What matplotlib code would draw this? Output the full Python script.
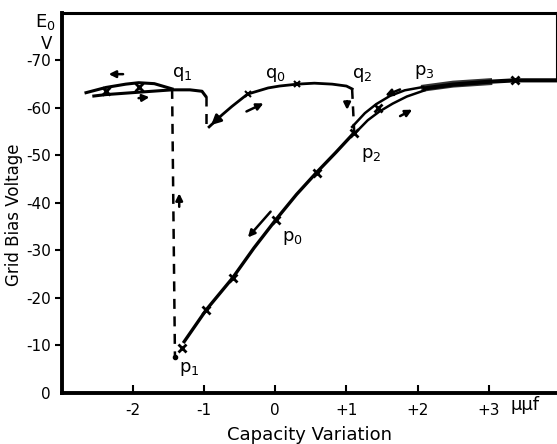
import matplotlib.pyplot as plt

# capacity variation (uuf) vs grid bias voltage (shown as magnitude, labelled negative)
left_up_x = [-2.66, -2.38, -2.1, -1.92, -1.7, -1.45]
left_up_y = [63.2, 64.3, 65.0, 65.3, 65.1, 64.0]
left_lo_x = [-2.55, -2.38, -1.92, -1.45, -1.2, -1.03, -0.98]
left_lo_y = [62.5, 62.8, 63.3, 63.8, 63.8, 63.5, 62.5]

q0_x = [-0.93, -0.75, -0.61, -0.39, -0.1, 0.06, 0.31, 0.55, 0.8, 1.0, 1.08]
q0_y = [56.0, 58.5, 60.3, 62.9, 64.2, 64.6, 65.0, 65.2, 65.0, 64.6, 64.0]

main_x = [-1.28, -0.97, -0.6, -0.3, 0.01, 0.3, 0.58, 0.85, 1.11]
main_y = [10.8, 17.5, 24.2, 30.5, 36.5, 41.8, 46.4, 50.6, 54.8]

dbl_lo_x = [1.13, 1.3, 1.46, 1.65, 1.85, 2.1]
dbl_lo_y = [54.8, 57.4, 59.2, 60.9, 62.4, 63.7]
dbl_up_x = [1.08, 1.26, 1.42, 1.61, 1.82, 2.08]
dbl_up_y = [56.0, 58.9, 60.8, 62.5, 63.7, 64.4]

top_x = [2.1, 2.5, 3.0, 3.37, 3.96]
top_y = [64.1, 64.9, 65.5, 65.8, 65.8]

q1 = (-1.45, 64.0)
p1 = (-1.41, 7.6)
q2 = (1.08, 64.0)
p2 = (1.11, 54.8)

xticks = [-2, -1, 0, 1, 2, 3]
xlabels = ['-2', '-1', '0', '+1', '+2', '+3']
yticks = [0, 10, 20, 30, 40, 50, 60, 70]
ylabels = ['0', '-10', '-20', '-30', '-40', '-50', '-60', '-70']

fig = plt.figure(figsize=(5.57, 4.44), dpi=100)
ax = fig.add_axes([0.111, 0.115, 0.889, 0.856])
ax.set_xlim(-3, 3.96)
ax.set_ylim(0, 80)

k = 'black'
ax.plot(left_up_x, left_up_y, color=k, lw=2.2)
ax.plot(left_lo_x, left_lo_y, color=k, lw=2.2)
ax.plot([-2.38, -1.92], [63.6, 64.3], 'x', color=k, ms=6, mew=2)
ax.plot([q1[0], p1[0]], [q1[1], p1[1]], color=k, lw=1.8, ls=(0, (4, 3)))
ax.plot([-0.98, -0.98], [62.5, 55.5], color=k, lw=1.8, ls=(0, (4, 3)))
ax.plot(*p1, 'o', color=k, ms=3)

ax.plot(q0_x, q0_y, color=k, lw=2)
ax.plot([-0.39, 0.31], [62.9, 65.0], 'x', color=k, ms=5, mew=1.5)
ax.annotate('', xy=(q0_x[0], q0_y[0]), xytext=(q0_x[1], q0_y[1]),
            arrowprops=dict(arrowstyle='-|>', color=k, lw=2, mutation_scale=14))
ax.plot([q2[0], p2[0]], [q2[1], p2[1]], color=k, lw=1.8, ls=(0, (4, 3)))

ax.plot(main_x, main_y, color=k, lw=2.4)
ax.plot([-1.31, -0.97, -0.6, 0.01, 0.58, 1.11], [9.5, 17.5, 24.2, 36.5, 46.4, 54.8],
        'x', color=k, ms=6, mew=2)

ax.plot(dbl_lo_x, dbl_lo_y, color=k, lw=1.8)
ax.plot(dbl_up_x, dbl_up_y, color=k, lw=1.8)
ax.plot([1.44], [59.9], 'x', color=k, ms=6, mew=2)
ax.plot(top_x, top_y, color=k, lw=3)
ax.plot(top_x[:3], [64.2, 65.0, 65.5], color=k, lw=5, alpha=0.8)
ax.plot([3.37], [65.8], 'x', color=k, ms=6, mew=2)

# direction arrows
arrows = [((-2.1, 67.1), (-2.38, 67.1)), ((-1.96, 62.0), (-1.73, 62.3)),
          ((-0.44, 59.0), (-0.13, 61.2)), ((-1.35, 38.6), (-1.35, 42.6)),
          ((-0.04, 38.6), (-0.41, 32.3)), ((1.79, 64.1), (1.51, 62.4)),
          ((1.72, 58.0), (1.96, 59.9)), ((1.01, 62.0), (1.01, 59.0))]
for (x0, y0), (x1, y1) in arrows:
    ax.annotate('', xy=(x1, y1), xytext=(x0, y0),
                arrowprops=dict(arrowstyle='-|>', color=k, lw=1.8, mutation_scale=10))

lab = dict(fontsize=13, color=k)
ax.text(-1.45, 66.5, r'q$_1$', **lab)
ax.text(-0.15, 66.3, r'q$_0$', **lab)
ax.text(1.08, 66.3, r'q$_2$', **lab)
ax.text(1.95, 67.0, r'p$_3$', **lab)
ax.text(1.2, 49.5, r'p$_2$', **lab)
ax.text(0.1, 32.0, r'p$_0$', **lab)
ax.text(-1.35, 4.5, r'p$_1$', **lab)

for s in ['left', 'bottom']:
    ax.spines[s].set_linewidth(2.8)
ax.spines['top'].set_linewidth(2.2)
ax.spines['right'].set_linewidth(1.5)
ax.spines['right'].set_bounds(65.8, 80)

ax.set_xticks(xticks)
ax.set_xticklabels(xlabels, fontsize=11)
ax.set_yticks(yticks)
ax.set_yticklabels(ylabels, fontsize=11)
ax.tick_params(axis='x', direction='in', length=6, width=1.5, pad=7)
ax.tick_params(axis='y', direction='out', length=5, width=1.5, pad=3)
ax.yaxis.get_major_ticks()[0].tick1line.set_visible(False)

ax.set_xlabel('Capacity Variation', fontsize=13, labelpad=6)
ax.set_ylabel('Grid Bias Voltage', fontsize=12)
ax.yaxis.set_label_coords(-0.078, 0.47)
fig.text(0.081, 0.95, r'E$_0$', fontsize=13, ha='center', va='center')
fig.text(0.083, 0.9, 'V', fontsize=12, ha='center', va='center')
fig.text(0.943, 0.088, 'μμf', fontsize=13, ha='center', va='center')

fig.savefig('out.png', dpi=100)
